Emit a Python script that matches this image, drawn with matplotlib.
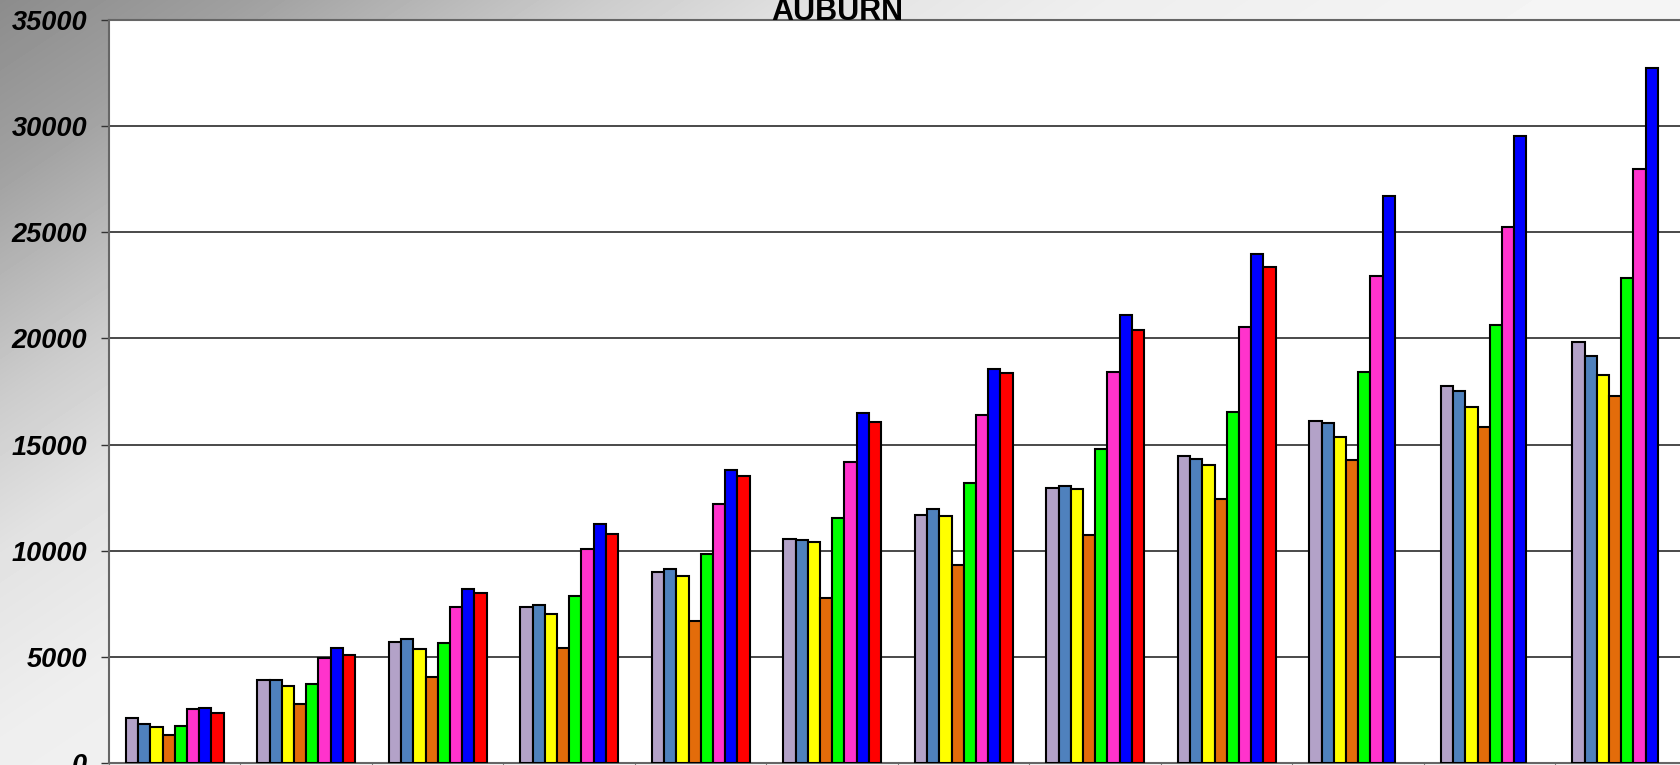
import numpy as np
import matplotlib
matplotlib.use("Agg")
import matplotlib.pyplot as plt

# values, one list per series (12 groups)
series_colors = ['#B3A2C8', '#4F81BD', '#FFFF00', '#E36C0A', '#00FF00',
                 '#FF33CC', '#0000FF', '#FF0000']
lavender = [2110, 3900, 5680, 7340, 8980, 10550, 11670, 12960, 14450, 16120, 17740, 19840]
steel = [1825, 3900, 5830, 7450, 9135, 10500, 11980, 13050, 14340, 16020, 17530, 19180]
yellow = [1685, 3630, 5360, 7010, 8790, 10390, 11620, 12910, 14030, 15350, 16760, 18270]
orange = [1335, 2770, 4040, 5440, 6680, 7750, 9310, 10720, 12440, 14250, 15830, 17310]
green = [1730, 3740, 5660, 7890, 9830, 11560, 13210, 14780, 16530, 18410, 20610, 22830]
pink = [2530, 4940, 7330, 10080, 12220, 14200, 16370, 18410, 20550, 22940, 25240, 27960]
blue = [2590, 5425, 8220, 11240, 13820, 16490, 18550, 21120, 23960, 26690, 29530, 32740]
red = [2345, 5080, 8020, 10800, 13520, 16050, 18350, 20390, 23380, np.nan, np.nan, np.nan]
all_series = [lavender, steel, yellow, orange, green, pink, blue, red]
n_groups = len(lavender)

W, H = 1681, 765
fig = plt.figure(figsize=(W / 100, H / 100), dpi=100)

# gray diagonal gradient background
bg = fig.add_axes([0, 0, 1, 1], zorder=0)
xx, yy = np.meshgrid(np.arange(W), np.arange(H))
s = xx + 1.5 * yy
val = np.interp(s, [0, 250, 600, 825, 1100, 1600], [140, 160, 204, 226, 238, 245]) / 255
bg.imshow(val, cmap='gray', vmin=0, vmax=1, aspect='auto', extent=[0, W, H, 0])
bg.set_axis_off()

# plot area (runs a little past the right edge, like the original)
left, right, top, bottom = 109, 1687, 20, 763
ax = fig.add_axes([left / W, 1 - bottom / H, (right - left) / W, (bottom - top) / H], zorder=1)
ax.set_facecolor('white')

bw = 12.2 / 131.5
start = (1 - len(all_series) * bw) / 2
groups = np.arange(n_groups)
for k, (vals, c) in enumerate(zip(all_series, series_colors)):
    ax.bar(groups + start + k * bw + bw / 2, vals, width=bw, color=c,
           edgecolor='black', linewidth=1.5, zorder=3)

ax.set_xlim(0, n_groups)
ax.set_ylim(0, 35000)
ax.set_yticks(np.arange(0, 35001, 5000))
ax.set_xticks(np.arange(0, n_groups + 1))
ax.set_xticklabels([])
ax.yaxis.grid(True, color='#2a2a2a', linewidth=1.2, zorder=0)
ax.tick_params(axis='y', length=5.8, width=1, color='#333333', pad=10)
ax.tick_params(axis='x', length=5, color='#808080')
for lab in ax.get_yticklabels():
    lab.set_fontfamily('Liberation Sans')
    lab.set_fontsize(19.5)
    lab.set_fontweight('bold')
    lab.set_fontstyle('italic')
for side in ['left', 'top', 'bottom', 'right']:
    ax.spines[side].set_color('#666666')
    ax.spines[side].set_linewidth(1.5)

fig.text(837.5 / W, 1 - 20.5 / H, 'AUBURN', ha='center', va='baseline',
         fontfamily='Liberation Sans', fontsize=22, fontweight='bold', zorder=5)

fig.savefig('out.png', dpi=100)
